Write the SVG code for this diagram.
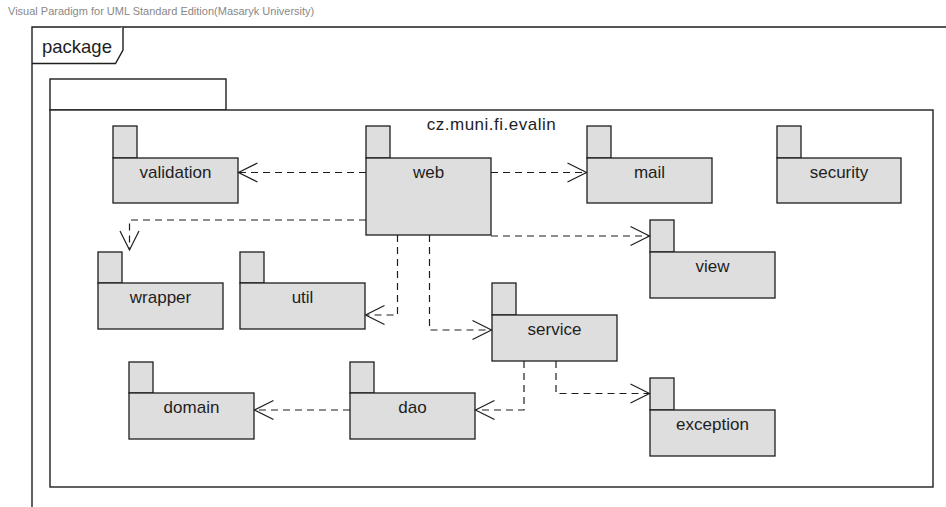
<svg xmlns="http://www.w3.org/2000/svg" width="946" height="507" viewBox="0 0 946 507">
<style>
.pkg{fill:#dedede;stroke:#1e1e1e;stroke-width:1.3}
.lbl{font-family:"Liberation Sans",Arial,sans-serif;font-size:17px;fill:#1e1e1e;text-anchor:middle}
.frame{fill:#fff;stroke:#1e1e1e;stroke-width:1.4}
.dep{fill:none;stroke:#1e1e1e;stroke-width:1.2;stroke-dasharray:7,5}
.ah{fill:none;stroke:#1e1e1e;stroke-width:1.2}
</style>
<defs>
<path id="ah" class="ah" d="M-19,-9.5 L0,0 L-19,9.5"/>
</defs>
<rect width="946" height="507" fill="#fff"/>
<text x="8" y="15" font-family="'Liberation Sans',Arial,sans-serif" font-size="11" fill="#888">Visual Paradigm for UML Standard Edition(Masaryk University)</text>
<g id="frame">
<path class="frame" d="M32,512 V27 H960"/>
<path class="frame" d="M32,63.5 H115.5 L123,50 V27"/>
<text x="42" y="53" font-family="'Liberation Sans',Arial,sans-serif" font-size="18.5" fill="#1e1e1e">package</text>
</g>
<g id="cz.muni.fi.evalin">
<rect class="frame" x="50" y="79" width="176" height="31"/>
<rect class="frame" x="50" y="110" width="883" height="377"/>
<text class="lbl" x="491.5" y="130" style="letter-spacing:0.5px">cz.muni.fi.evalin</text>
</g>
<g id="validation">
<rect class="pkg" x="113" y="126" width="24" height="32"/>
<rect class="pkg" x="113" y="158" width="125" height="45"/>
<text class="lbl" x="175.5" y="177.5">validation</text>
</g>
<g id="web">
<rect class="pkg" x="366" y="126" width="24" height="32"/>
<rect class="pkg" x="366" y="158" width="125" height="77"/>
<text class="lbl" x="428.5" y="177.5">web</text>
</g>
<g id="mail">
<rect class="pkg" x="587" y="126" width="24" height="32"/>
<rect class="pkg" x="587" y="158" width="125" height="45"/>
<text class="lbl" x="649.5" y="177.5">mail</text>
</g>
<g id="security">
<rect class="pkg" x="777" y="126" width="24" height="32"/>
<rect class="pkg" x="777" y="158" width="124" height="45"/>
<text class="lbl" x="839" y="177.5">security</text>
</g>
<g id="view">
<rect class="pkg" x="650" y="220" width="24" height="32"/>
<rect class="pkg" x="650" y="252" width="125" height="46"/>
<text class="lbl" x="712.5" y="271.5">view</text>
</g>
<g id="wrapper">
<rect class="pkg" x="98" y="252" width="24" height="31"/>
<rect class="pkg" x="98" y="283" width="125" height="46"/>
<text class="lbl" x="160.5" y="302.5">wrapper</text>
</g>
<g id="util">
<rect class="pkg" x="240" y="252" width="24" height="31"/>
<rect class="pkg" x="240" y="283" width="125" height="46"/>
<text class="lbl" x="302.5" y="302.5">util</text>
</g>
<g id="service">
<rect class="pkg" x="492" y="283" width="24" height="32"/>
<rect class="pkg" x="492" y="315" width="125" height="46"/>
<text class="lbl" x="554.5" y="334.5">service</text>
</g>
<g id="domain">
<rect class="pkg" x="129" y="362" width="24" height="31"/>
<rect class="pkg" x="129" y="393" width="125" height="46"/>
<text class="lbl" x="191.5" y="412.5">domain</text>
</g>
<g id="dao">
<rect class="pkg" x="350" y="362" width="24" height="31"/>
<rect class="pkg" x="350" y="393" width="125" height="46"/>
<text class="lbl" x="412.5" y="412.5">dao</text>
</g>
<g id="exception">
<rect class="pkg" x="650" y="378" width="24" height="32"/>
<rect class="pkg" x="650" y="410" width="125" height="46"/>
<text class="lbl" x="712.5" y="429.5">exception</text>
</g>
<g id="connectors">
<path class="dep" d="M366,172.5 H239"/>
<use href="#ah" transform="translate(238.5,172.5) rotate(180)"/>
<path class="dep" d="M366,220 H129.5 V250"/>
<use href="#ah" transform="translate(129.5,250) rotate(90)"/>
<path class="dep" d="M491,172.5 H586"/>
<use href="#ah" transform="translate(586.5,172.5)"/>
<path class="dep" d="M491,236 H649.5"/>
<use href="#ah" transform="translate(649.5,236)"/>
<path class="dep" d="M397.5,235 V315 H366"/>
<use href="#ah" transform="translate(365.5,315) rotate(180)"/>
<path class="dep" d="M429.5,235 V330 H491"/>
<use href="#ah" transform="translate(491.5,330)"/>
<path class="dep" d="M524,361 V410 H476"/>
<use href="#ah" transform="translate(475.5,410) rotate(180)"/>
<path class="dep" d="M556,361 V393.5 H649.5"/>
<use href="#ah" transform="translate(649.5,393.5)"/>
<path class="dep" d="M350,410 H255"/>
<use href="#ah" transform="translate(254.5,410) rotate(180)"/>
</g>
</svg>
